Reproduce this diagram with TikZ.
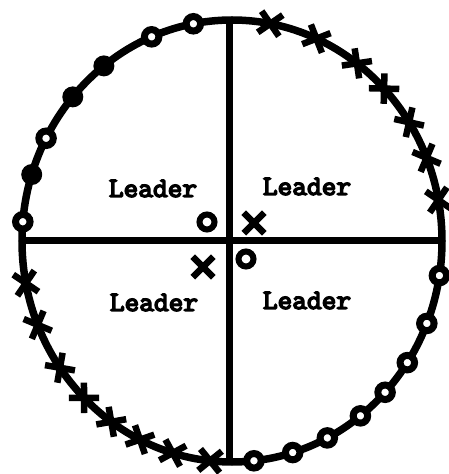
\documentclass[tikz,border=0pt]{standalone}
\usepackage{fontspec}
\newfontfamily\labfont[FakeBold=5]{lmmono10-regular.otf}
\usetikzlibrary{shapes.misc,calc}
\begin{document}
\begin{tikzpicture}[x=1pt,y=1pt,
  curve/.style={line width=7.5pt},
  axisline/.style={line width=7pt},
  ringmark/.style={circle,draw=black,fill=white,line width=7pt,minimum size=14.5pt,inner sep=0pt},
  dotmark/.style={circle,fill=black,minimum size=21pt,inner sep=0pt},
  crossmark/.style={cross out,draw=black,line width=6.5pt,minimum size=15pt,inner sep=0pt},
  bigring/.style={circle,draw=black,fill=white,line width=6pt,minimum size=15pt,inner sep=0pt},
  bigcross/.style={cross out,draw=black,line width=6.5pt,minimum size=14pt,inner sep=0pt},
  lab/.style={font=\labfont\fontsize{28}{30}\selectfont,anchor=base,inner sep=0pt}]
\useasboundingbox (0,0) rectangle (448,474);
\coordinate (c) at (232,233);
\coordinate (L) at (22,233);
\coordinate (R) at (442,233);
\coordinate (T) at (229,454);
\coordinate (B) at (229,13);
% axes
\draw[axisline] (L) -- (R);
\draw[axisline] (T) -- (B);
% outer loop
\draw[curve] (c) ellipse [x radius=210pt, y radius=221pt];
% open rings on the loop
\foreach \t [count=\i] in {175,152.3,112.5,100.6,276,286.8,297,307.7,316.8,326.6,338.1,351}
  \node[ringmark] (r\i) at ($(c)+(\t:210pt and 221pt)$) {};
% filled dots on the loop
\foreach \t [count=\i] in {162.5,139.3,127.6}
  \node[dotmark] (f\i) at ($(c)+(\t:210pt and 221pt)$) {};
% crosses on the loop
\foreach \t [count=\i] in {79.5,66.3,53.5,43.6,32.5,22.1,10.7,191,202.3,215,225.2,234.9,244,253.6,264}
  \node[crossmark,rotate=\t] (x\i) at ($(c)+(\t:210pt and 221pt)$) {};
% central markers
\node[bigring] (o1) at (207,252) {};
\node[bigcross] (c1) at (254,251) {};
\node[bigcross] (c2) at (203,207) {};
\node[bigring] (o2) at (246,215) {};
% labels
\node[lab] (l1) at (153,277) {Leader};
\node[lab] (l2) at (307,279) {Leader};
\node[lab] (l3) at (154,163) {Leader};
\node[lab] (l4) at (307,165) {Leader};
\end{tikzpicture}
\end{document}
